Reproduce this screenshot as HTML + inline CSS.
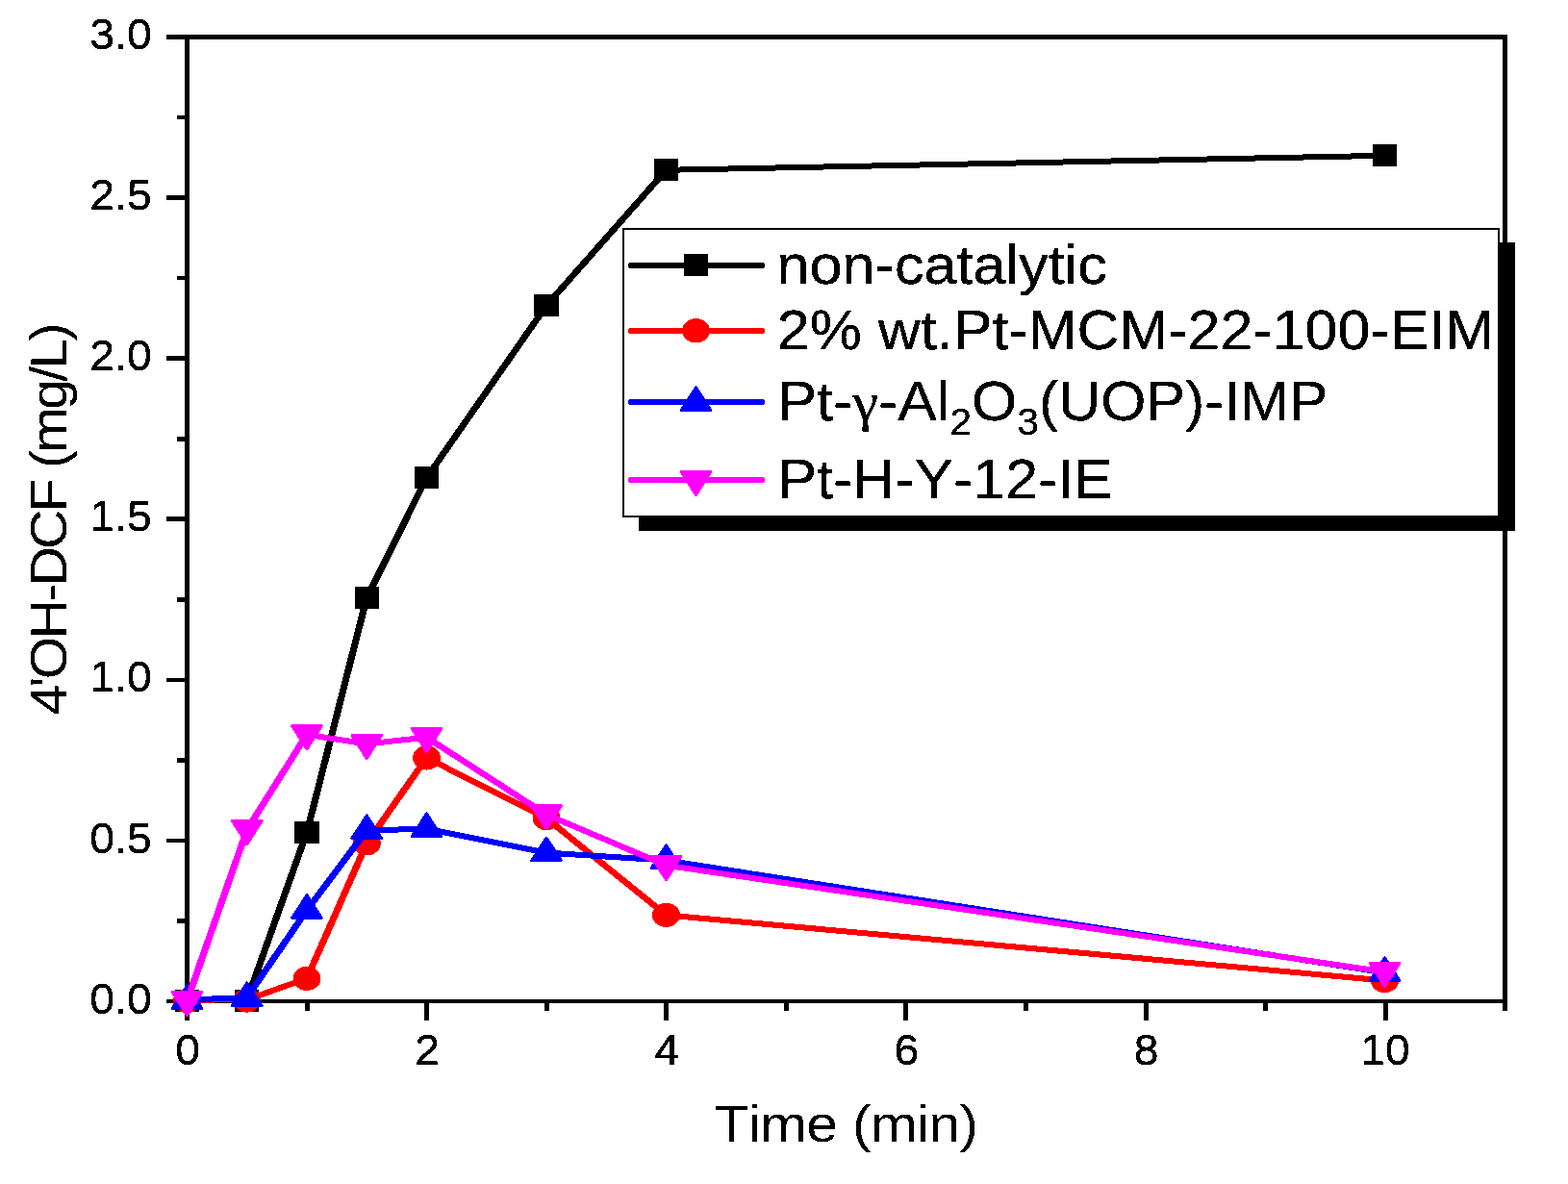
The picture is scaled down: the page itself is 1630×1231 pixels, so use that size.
<!DOCTYPE html>
<html lang="en">
<head>
<meta charset="utf-8">
<title>4'OH-DCF vs Time</title>
<style>
html,body{margin:0;padding:0;background:#fff;}
body{width:1630px;height:1231px;overflow:hidden;}
svg{display:block;}
text{font-family:"Liberation Sans",sans-serif;fill:#000;font-kerning:none;}
</style>
</head>
<body>
<svg width="1630" height="1231" viewBox="0 0 1630 1231">
<defs>
<filter id="th" x="-5%" y="-20%" width="110%" height="140%" color-interpolation-filters="sRGB"><feComponentTransfer><feFuncA type="discrete" tableValues="0 1"/></feComponentTransfer></filter>
<filter id="tv" x="-5%" y="-20%" width="110%" height="140%" color-interpolation-filters="sRGB"><feConvolveMatrix order="1 3" kernelMatrix="0.35 1 0.35" divisor="1" bias="0" edgeMode="none" preserveAlpha="false"/><feComponentTransfer><feFuncA type="discrete" tableValues="0 1"/></feComponentTransfer></filter>
<filter id="tl" x="-5%" y="-20%" width="110%" height="140%" color-interpolation-filters="sRGB"><feConvolveMatrix order="1 3" kernelMatrix="0.2 1 0.2" divisor="1" bias="0" edgeMode="none" preserveAlpha="false"/><feComponentTransfer><feFuncA type="discrete" tableValues="0 1"/></feComponentTransfer></filter>
</defs>
<rect x="0" y="0" width="1630" height="1231" fill="#fff"/>
<g shape-rendering="crispEdges">
<rect x="192" y="36" width="5" height="1007" fill="#000"/>
<rect x="1562" y="36" width="5" height="1015" fill="#000"/>
<rect x="173" y="36" width="1394" height="5" fill="#000"/>
<rect x="173" y="1039" width="1394" height="4" fill="#000"/>
<rect x="184" y="955" width="9" height="5" fill="#000"/>
<rect x="173" y="872" width="20" height="4" fill="#000"/>
<rect x="184" y="788" width="9" height="5" fill="#000"/>
<rect x="173" y="705" width="20" height="4" fill="#000"/>
<rect x="184" y="621" width="9" height="5" fill="#000"/>
<rect x="173" y="537" width="20" height="5" fill="#000"/>
<rect x="184" y="454" width="9" height="5" fill="#000"/>
<rect x="173" y="370" width="20" height="5" fill="#000"/>
<rect x="184" y="287" width="9" height="4" fill="#000"/>
<rect x="173" y="203" width="20" height="5" fill="#000"/>
<rect x="184" y="120" width="9" height="4" fill="#000"/>
<rect x="192" y="1040" width="5" height="21" fill="#000"/>
<rect x="317" y="1040" width="5" height="11" fill="#000"/>
<rect x="441" y="1040" width="5" height="21" fill="#000"/>
<rect x="566" y="1040" width="5" height="11" fill="#000"/>
<rect x="690" y="1040" width="5" height="21" fill="#000"/>
<rect x="815" y="1040" width="5" height="11" fill="#000"/>
<rect x="939" y="1040" width="5" height="21" fill="#000"/>
<rect x="1064" y="1040" width="5" height="11" fill="#000"/>
<rect x="1189" y="1040" width="5" height="21" fill="#000"/>
<rect x="1313" y="1040" width="5" height="11" fill="#000"/>
<rect x="1438" y="1040" width="5" height="21" fill="#000"/>
</g>
<g shape-rendering="crispEdges">
<polyline transform="scale(1.2,1)" fill="none" stroke="#000000" stroke-width="6.0" stroke-linejoin="round" stroke-linecap="round" points="162.08,1039.6 213.96,1039.6 265.83,865.4 317.71,621.5 369.58,496.6 473.33,317.7 577.08,176.8 1199.58,161.8"/>
<rect x="181.80" y="1029.10" width="25.4" height="23" fill="#000000"/>
<rect x="244.05" y="1029.10" width="25.4" height="23" fill="#000000"/>
<rect x="306.30" y="853.90" width="25.4" height="23" fill="#000000"/>
<rect x="368.55" y="610.00" width="25.4" height="23" fill="#000000"/>
<rect x="430.80" y="485.10" width="25.4" height="23" fill="#000000"/>
<rect x="555.30" y="306.20" width="25.4" height="23" fill="#000000"/>
<rect x="679.80" y="165.00" width="25.4" height="23" fill="#000000"/>
<rect x="1426.80" y="149.70" width="25.4" height="23" fill="#000000"/>
<polyline transform="scale(1.2,1)" fill="none" stroke="#ff0000" stroke-width="6.0" stroke-linejoin="round" stroke-linecap="round" points="162.08,1039.6 213.96,1039.4 265.83,1017.3 317.71,876.8 369.58,787.9 473.33,850.7 577.08,951.4 1199.58,1019.5"/>
<ellipse cx="194.50" cy="1040.60" rx="14.5" ry="12.6" fill="#ff0000"/>
<ellipse cx="256.75" cy="1040.00" rx="14.5" ry="12.6" fill="#ff0000"/>
<ellipse cx="319.00" cy="1017.30" rx="14.5" ry="12.6" fill="#ff0000"/>
<ellipse cx="381.25" cy="876.80" rx="14.5" ry="12.6" fill="#ff0000"/>
<ellipse cx="443.50" cy="787.90" rx="14.5" ry="12.6" fill="#ff0000"/>
<ellipse cx="568.00" cy="850.70" rx="14.5" ry="12.6" fill="#ff0000"/>
<ellipse cx="692.50" cy="951.40" rx="14.5" ry="12.6" fill="#ff0000"/>
<ellipse cx="1439.50" cy="1019.50" rx="14.5" ry="12.6" fill="#ff0000"/>
<polyline transform="scale(1.2,1)" fill="none" stroke="#0000ff" stroke-width="6.0" stroke-linejoin="round" stroke-linecap="round" points="162.08,1039.6 213.96,1037.0 265.83,946.4 317.71,863.5 369.58,861.6 473.33,886.6 577.08,894.5 1199.58,1011.3"/>
<polygon points="194.50,1025.00 209.80,1048.60 179.20,1048.60" fill="#0000ff" stroke="#0000ff" stroke-width="3" stroke-linejoin="round"/>
<polygon points="256.75,1022.00 272.05,1045.60 241.45,1045.60" fill="#0000ff" stroke="#0000ff" stroke-width="3" stroke-linejoin="round"/>
<polygon points="319.00,930.80 334.30,954.40 303.70,954.40" fill="#0000ff" stroke="#0000ff" stroke-width="3" stroke-linejoin="round"/>
<polygon points="381.25,847.90 396.55,871.50 365.95,871.50" fill="#0000ff" stroke="#0000ff" stroke-width="3" stroke-linejoin="round"/>
<polygon points="443.50,846.00 458.80,869.60 428.20,869.60" fill="#0000ff" stroke="#0000ff" stroke-width="3" stroke-linejoin="round"/>
<polygon points="568.00,871.00 583.30,894.60 552.70,894.60" fill="#0000ff" stroke="#0000ff" stroke-width="3" stroke-linejoin="round"/>
<polygon points="692.50,878.90 707.80,902.50 677.20,902.50" fill="#0000ff" stroke="#0000ff" stroke-width="3" stroke-linejoin="round"/>
<polygon points="1439.50,995.70 1454.80,1019.30 1424.20,1019.30" fill="#0000ff" stroke="#0000ff" stroke-width="3" stroke-linejoin="round"/>
<polyline transform="scale(1.2,1)" fill="none" stroke="#ff00ff" stroke-width="6.0" stroke-linejoin="round" stroke-linecap="round" points="162.08,1040.6 213.96,862.6 265.83,763.7 317.71,773.5 369.58,766.6 473.33,846.9 577.08,899.7 1199.58,1010.5"/>
<polygon points="179.20,1031.50 209.80,1031.50 194.50,1055.70" fill="#ff00ff" stroke="#ff00ff" stroke-width="3" stroke-linejoin="round"/>
<polygon points="241.45,853.50 272.05,853.50 256.75,877.70" fill="#ff00ff" stroke="#ff00ff" stroke-width="3" stroke-linejoin="round"/>
<polygon points="303.70,754.60 334.30,754.60 319.00,778.80" fill="#ff00ff" stroke="#ff00ff" stroke-width="3" stroke-linejoin="round"/>
<polygon points="365.95,764.40 396.55,764.40 381.25,788.60" fill="#ff00ff" stroke="#ff00ff" stroke-width="3" stroke-linejoin="round"/>
<polygon points="428.20,757.50 458.80,757.50 443.50,781.70" fill="#ff00ff" stroke="#ff00ff" stroke-width="3" stroke-linejoin="round"/>
<polygon points="552.70,837.80 583.30,837.80 568.00,862.00" fill="#ff00ff" stroke="#ff00ff" stroke-width="3" stroke-linejoin="round"/>
<polygon points="677.20,890.60 707.80,890.60 692.50,914.80" fill="#ff00ff" stroke="#ff00ff" stroke-width="3" stroke-linejoin="round"/>
<polygon points="1424.20,1001.40 1454.80,1001.40 1439.50,1025.60" fill="#ff00ff" stroke="#ff00ff" stroke-width="3" stroke-linejoin="round"/>
</g>
<g shape-rendering="crispEdges">
<rect x="664" y="252" width="911" height="300" fill="#000"/>
<rect x="647" y="237" width="912" height="301" fill="#000"/>
<rect x="649" y="239" width="908" height="297" fill="#fff"/>
</g>
<g shape-rendering="crispEdges">
<line transform="scale(1.2,1)" x1="547.17" y1="276.0" x2="659.50" y2="276.0" stroke="#000000" stroke-width="6" stroke-linecap="round"/>
<rect x="710.80" y="264.00" width="25.4" height="23" fill="#000000"/>
<line transform="scale(1.2,1)" x1="547.17" y1="344.0" x2="659.50" y2="344.0" stroke="#ff0000" stroke-width="6" stroke-linecap="round"/>
<ellipse cx="723.50" cy="343.80" rx="14.5" ry="12.6" fill="#ff0000"/>
<line transform="scale(1.2,1)" x1="547.17" y1="418.0" x2="659.50" y2="418.0" stroke="#0000ff" stroke-width="6" stroke-linecap="round"/>
<polygon points="723.50,402.70 738.80,426.30 708.20,426.30" fill="#0000ff" stroke="#0000ff" stroke-width="3" stroke-linejoin="round"/>
<line transform="scale(1.2,1)" x1="547.17" y1="499.0" x2="659.50" y2="499.0" stroke="#ff00ff" stroke-width="6" stroke-linecap="round"/>
<polygon points="708.20,490.40 738.80,490.40 723.50,514.60" fill="#ff00ff" stroke="#ff00ff" stroke-width="3" stroke-linejoin="round"/>
</g>
<text transform="translate(807.60,294.75) scale(1.0690,1)" font-size="57.2" stroke="#000" stroke-width="0.1" stroke-linejoin="round" filter="url(#tl)">non-catalytic</text>
<text transform="translate(807.80,362.85) scale(1.0661,1)" font-size="57.2" stroke="#000" stroke-width="0.1" stroke-linejoin="round" filter="url(#tl)">2% wt.Pt-MCM-22-100-EIM</text>
<text transform="translate(808.60,436.75) scale(1.0617,1)" font-size="57.2" stroke="#000" stroke-width="0.1" stroke-linejoin="round" filter="url(#tl)">Pt-<tspan font-family="Liberation Serif, serif">γ</tspan>-Al<tspan font-size="38.6" dy="15">2</tspan><tspan dy="-15">O</tspan><tspan font-size="38.6" dy="15">3</tspan><tspan dy="-15">(UOP)-IMP</tspan></text>
<text transform="translate(808.60,517.75) scale(1.0637,1)" font-size="57.2" stroke="#000" stroke-width="0.1" stroke-linejoin="round" filter="url(#tl)">Pt-H-Y-12-IE</text>
<text transform="translate(157.90,1053.60) scale(1.0570,1)" font-size="44" text-anchor="end" filter="url(#tv)">0.0</text>
<text transform="translate(157.90,886.51) scale(1.0570,1)" font-size="44" text-anchor="end" filter="url(#tv)">0.5</text>
<text transform="translate(157.90,719.43) scale(1.0570,1)" font-size="44" text-anchor="end" filter="url(#tv)">1.0</text>
<text transform="translate(157.90,552.35) scale(1.0570,1)" font-size="44" text-anchor="end" filter="url(#tv)">1.5</text>
<text transform="translate(157.90,385.26) scale(1.0570,1)" font-size="44" text-anchor="end" filter="url(#tv)">2.0</text>
<text transform="translate(157.90,218.17) scale(1.0570,1)" font-size="44" text-anchor="end" filter="url(#tv)">2.5</text>
<text transform="translate(157.90,51.09) scale(1.0570,1)" font-size="44" text-anchor="end" filter="url(#tv)">3.0</text>
<text transform="translate(195.00,1106.90) scale(1.0517,1)" font-size="44" text-anchor="middle" filter="url(#tv)">0</text>
<text transform="translate(444.16,1106.90) scale(1.0517,1)" font-size="44" text-anchor="middle" filter="url(#tv)">2</text>
<text transform="translate(693.32,1106.90) scale(1.0517,1)" font-size="44" text-anchor="middle" filter="url(#tv)">4</text>
<text transform="translate(942.48,1106.90) scale(1.0517,1)" font-size="44" text-anchor="middle" filter="url(#tv)">6</text>
<text transform="translate(1191.64,1106.90) scale(1.0517,1)" font-size="44" text-anchor="middle" filter="url(#tv)">8</text>
<text transform="translate(1439.90,1106.90) scale(1.0517,1)" font-size="44" text-anchor="middle" filter="url(#tv)">10</text>
<text transform="translate(742.50,1186.90) scale(1.1000,1)" font-size="53.5" filter="url(#th)" letter-spacing="-0.66">Time (min)</text>
<text transform="translate(69.10,743.50) rotate(-90) scale(1.0700,1)" font-size="53.5" stroke="#000" stroke-width="0.1" stroke-linejoin="round" filter="url(#th)" letter-spacing="-2.57">4'OH-DCF (mg/L)</text>
</svg>
</body>
</html>
